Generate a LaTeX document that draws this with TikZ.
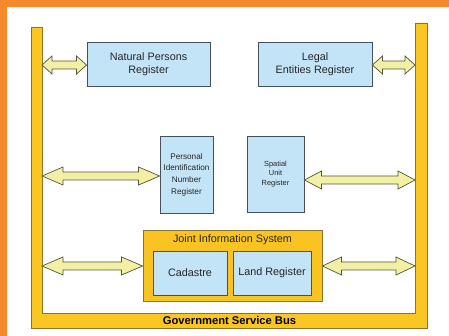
\documentclass[tikz,border=0pt]{standalone}
\usepackage{fontspec}
\setmainfont{Liberation Sans}
\usetikzlibrary{calc}
\definecolor{orangeb}{HTML}{F58A2C}
\definecolor{busy}{HTML}{FAC622}
\definecolor{busline}{HTML}{8C7430}
\definecolor{boxblue}{HTML}{C2E4F6}
\definecolor{boxline}{HTML}{46505A}
\definecolor{arrfill}{HTML}{F2F0A4}
\definecolor{arrline}{HTML}{55553A}
\definecolor{jisfill}{HTML}{F9C422}
\newcommand\darrow[3]{%
 \draw[dblarr] let \p1=#1, \p2=#2 in
 (\x1,\y1) -- (\x1+#3pt,\y1+9pt) -- (\x1+#3pt,\y1+4pt) -- (\x2-#3pt,\y2+4pt)
 -- (\x2-#3pt,\y2+9pt) -- (\x2,\y2) -- (\x2-#3pt,\y2-9pt) -- (\x2-#3pt,\y2-4pt)
 -- (\x1+#3pt,\y1-4pt) -- (\x1+#3pt,\y1-9pt) -- cycle;}
\begin{document}
\begin{tikzpicture}[x=1pt,y=-1pt,
  regbox/.style={draw=boxline,fill=boxblue,line width=0.9pt,inner sep=0pt,align=center,text=black!85},
  dblarr/.style={draw=arrline,fill=arrfill,line width=0.7pt,line join=miter},
  bigtext/.style={font=\fontsize{10.8}{13.5}\selectfont},
]
\useasboundingbox (0,0) rectangle (449,336);
\fill[white] (0,0) rectangle (449,336);
\fill[orangeb] (0,0) rectangle (449,7);
\fill[orangeb] (0,0) rectangle (7,336);
% bus
\draw[fill=busy,draw=busline,line width=0.6pt]
 (31,27) -- (31,328) -- (427,328) -- (427,23) -- (415,23) -- (415,313) -- (42,313) -- (42,27) -- cycle;
\node[font=\bfseries\fontsize{11.2}{13}\selectfont] (gsb) at (229.5,320.5) {Government Service Bus};
\coordinate (busL) at (42,0);
\coordinate (busR) at (415,0);
% boxes
\node[regbox,bigtext,minimum width=123pt,minimum height=44pt] (np) at (148.5,64) {Natural Persons\\Register};
\node[regbox,bigtext,minimum width=114pt,minimum height=44pt] (le) at (315,64) {Legal\\Entities Register};
\node[regbox,font=\fontsize{8.2}{11.6}\selectfont,minimum width=53pt,minimum height=77pt] (pin) at (186.5,174.5) {Personal\\Identification\\Number\\Register};
\node[regbox,font=\fontsize{7.4}{9.2}\selectfont,minimum width=57pt,minimum height=76pt] (sp) at (275.5,174) {Spatial\\Unit\\Register};
\node[draw=busline,fill=jisfill,line width=0.9pt,minimum width=179pt,minimum height=71pt,inner sep=0pt] (jis) at (232.5,265.5) {};
\node[bigtext,text=black!85] (jist) at (232.5,240) {Joint Information System};
\node[regbox,bigtext,minimum width=74pt,minimum height=44pt] (cad) at (190,273) {Cadastre};
\node[regbox,bigtext,minimum width=78pt,minimum height=44pt] (lr) at (272,273) {Land Register};
% arrows
\darrow{($(busL |- np.west)+(0,1)$)}{($(np.west)+(0,1)$)}{10}
\darrow{($(le.east)+(0,1)$)}{($(busR |- le.east)+(0,1)$)}{10}
\darrow{($(busL |- pin.west)+(0,1.5)$)}{($(pin.west)+(0,1.5)$)}{21}
\darrow{($(sp.east)+(0,6)$)}{($(busR |- sp.east)+(0,6)$)}{17}
\darrow{($(busL |- jis.west)+(0,0.5)$)}{($(jis.west)+(0,0.5)$)}{21}
\darrow{($(jis.east)+(0,0.5)$)}{($(busR |- jis.east)+(0,0.5)$)}{19}
\end{tikzpicture}
\end{document}
